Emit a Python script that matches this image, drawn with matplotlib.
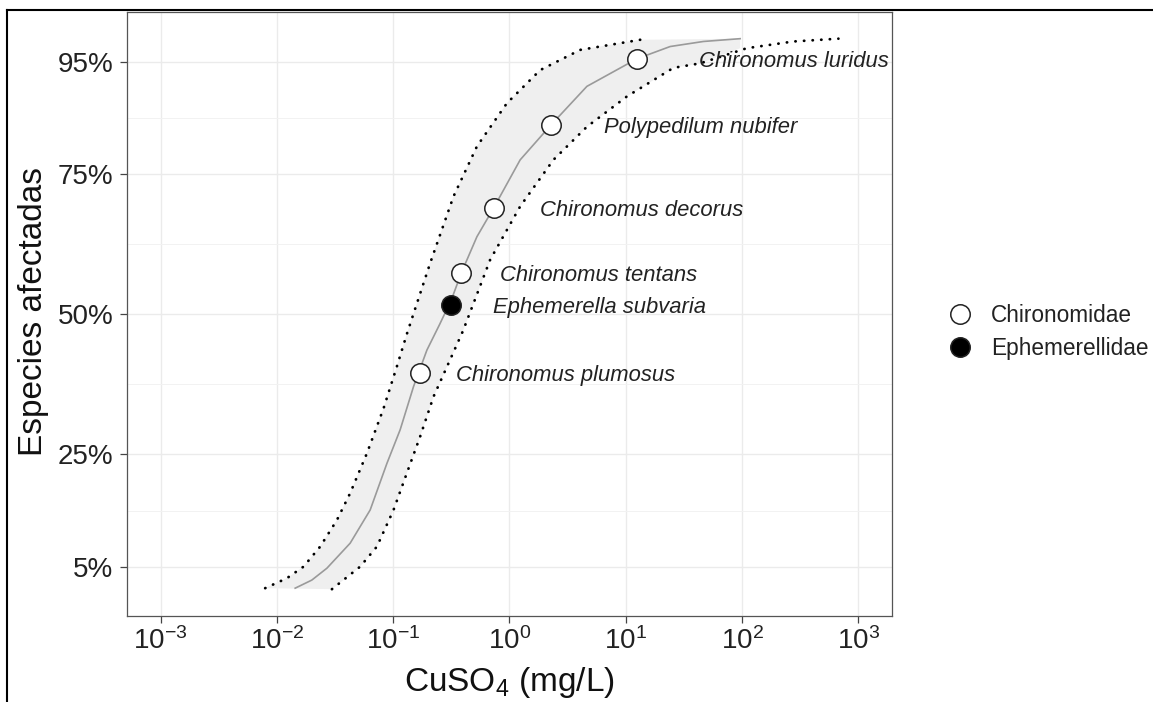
import numpy as np
import matplotlib
matplotlib.use("Agg")
import matplotlib.pyplot as plt
from matplotlib.lines import Line2D

plt.rcParams["font.family"] = ["Liberation Sans", "DejaVu Sans"]
plt.rcParams["mathtext.fontset"] = "custom"
plt.rcParams["mathtext.rm"] = "Liberation Sans"
plt.rcParams["mathtext.it"] = "Liberation Sans:italic"

# ---------------- data ----------------
species = ["Chironomus plumosus", "Ephemerella subvaria", "Chironomus tentans",
           "Chironomus decorus", "Polypedilum nubifer", "Chironomus luridus"]
family = ["Chironomidae", "Ephemerellidae", "Chironomidae",
          "Chironomidae", "Chironomidae", "Chironomidae"]
conc = [0.171, 0.317, 0.386, 0.735, 2.27, 12.45]          # mg/L
affected = [39.6, 51.6, 57.4, 69.0, 83.7, 95.5]           # %

# fitted distribution (log10 concentration, % affected)
fit_log10 = [-1.843, -1.700, -1.570, -1.370, -1.198, -1.054, -0.940, -0.825, -0.710,
             -0.600, -0.499, -0.413, -0.280, -0.134, 0.092, 0.356, 0.666,
             1.095, 1.382, 1.668, 1.984]
fit_pct = [1.16, 2.6, 4.72, 9.18, 15.1, 23.4, 29.4, 37.1, 43.6,
           48.2, 52.6, 57.4, 63.8, 69.0, 77.5, 83.7, 90.6,
           95.5, 97.7, 98.6, 99.1]

# lower confidence limit (left dotted)
lcl_log10 = [-2.101, -1.914, -1.771, -1.628, -1.484, -1.370, -1.226, -1.083,
             -0.968, -0.882, -0.682, -0.481, -0.280, -0.022, 0.264, 0.608, 1.124]
lcl_pct = [1.16, 2.94, 5.0, 8.57, 13.3, 18.1, 25.2, 33.2,
           40.7, 46.5, 59.1, 71.0, 79.9, 87.6, 93.5, 97.1, 98.9]

# upper confidence limit (right dotted)
ucl_log10 = [-1.527, -1.284, -1.140, -0.997, -0.882, -0.768, -0.653, -0.510,
             -0.400, -0.166, 0.092, 0.378, 0.666, 1.010, 1.410, 1.640,
             2.041, 2.442, 2.829]
ucl_pct = [0.98, 5.0, 8.57, 15.1, 21.7, 28.2, 35.3, 41.9,
           47.0, 59.7, 69.2, 77.5, 83.4, 88.8, 93.9, 94.7,
           97.4, 98.6, 99.1]

y_ticks = [5, 25, 50, 75, 95]
y_ticklabels = ["5%", "25%", "50%", "75%", "95%"]
x_ticks_exp = [-3, -2, -1, 0, 1, 2, 3]
legend_families = ["Chironomidae", "Ephemerellidae"]
legend_fill = {"Chironomidae": "white", "Ephemerellidae": "black"}

# label offsets (points, to the right of each point)
label_offsets = [26, 30, 28, 33, 38, 45]

# ---------------- figure ----------------
W, H = 1153, 702
fig = plt.figure(figsize=(W / 100, H / 100), dpi=100)
ax = fig.add_axes([126.7 / W, 1 - 616 / H, (892 - 126.7) / W, (616 - 12.3) / H])
ax.set_xscale("log")
ax.set_xlim(10 ** -3.292, 10 ** 3.29)
ax.set_ylim(-3.8, 103.8)

# grid
ax.set_axisbelow(True)
ax.set_yticks(y_ticks)
ax.set_yticklabels(y_ticklabels)
ax.set_yticks([15, 37.5, 62.5, 85], minor=True)
ax.set_xticks([10.0 ** e for e in x_ticks_exp])
ax.set_xticklabels([r"$10^{%d}$" % e for e in x_ticks_exp])
ax.xaxis.set_minor_locator(matplotlib.ticker.NullLocator())
ax.grid(which="major", color="#ebebeb", lw=1.0)
ax.grid(which="minor", axis="y", color="#f2f2f2", lw=0.7)
ax.tick_params(which="minor", length=0)
ax.tick_params(which="major", length=5, width=0.9, color="#444444",
               labelsize=20, labelcolor="#222222")
ax.tick_params(axis="y", pad=4.5)
ax.tick_params(axis="x", pad=3)
for s in ax.spines.values():
    s.set_color("#555555")
    s.set_linewidth(0.9)

fit_x = 10.0 ** np.array(fit_log10)
lcl_x = 10.0 ** np.array(lcl_log10)
ucl_x = 10.0 ** np.array(ucl_log10)

# ribbon: left limit upward, right limit (capped at fit end) downward
ucl_cap = np.minimum(ucl_x, fit_x.max())
rib_x = np.concatenate([lcl_x, ucl_cap[::-1]])
rib_y = np.concatenate([lcl_pct, np.array(ucl_pct)[::-1]])
ax.fill(rib_x, rib_y, color="#efefef", lw=0, zorder=1)

ax.plot(fit_x, fit_pct, color="#9a9a9a", lw=1.2, zorder=2, solid_joinstyle="round")
for xx, yy in ((lcl_x, lcl_pct), (ucl_x, ucl_pct)):
    ax.plot(xx, yy, color="black", lw=2.0, linestyle=(0, (0.1, 3.0)),
            dash_capstyle="round", zorder=3)

for c, p, f in zip(conc, affected, family):
    ax.plot(c, p, "o", ms=14, mfc=legend_fill[f], mec="#222222", mew=1.1, zorder=4)

for c, p, name, off in zip(conc, affected, species, label_offsets):
    ax.annotate(name, (c, p), xytext=(off, 0), textcoords="offset points",
                ha="left", va="center_baseline", fontsize=15.8, style="italic",
                color="#222222", zorder=5)

# legend
handles = [Line2D([], [], marker="o", ls="", ms=14, mfc=legend_fill[f],
                  mec="#222222", mew=1.1, label=f) for f in legend_families]
fig.legend(handles=handles, loc="center left", bbox_to_anchor=(937 / W, 1 - 332 / H),
           frameon=False, fontsize=16.3, handlelength=1.0, handletextpad=0.9,
           borderpad=0, labelspacing=0.45, labelcolor="#222222")

# axis titles
fig.text(34 / W, 1 - 312 / H, "Especies afectadas", rotation=90, ha="center",
         va="center", fontsize=24, color="#111111")
fig.text(509 / W, 1 - 691 / H, r"CuSO$_4$ (mg/L)", ha="center", va="baseline",
         fontsize=24, color="#111111")

# outer frame (top and left)
fig.add_artist(Line2D([7 / W, 1], [1 - 10 / H, 1 - 10 / H], transform=fig.transFigure,
                      color="black", lw=1.5))
fig.add_artist(Line2D([7 / W, 7 / W], [0, 1 - 10 / H], transform=fig.transFigure,
                      color="black", lw=1.5))

fig.savefig("out.png", dpi=100)
